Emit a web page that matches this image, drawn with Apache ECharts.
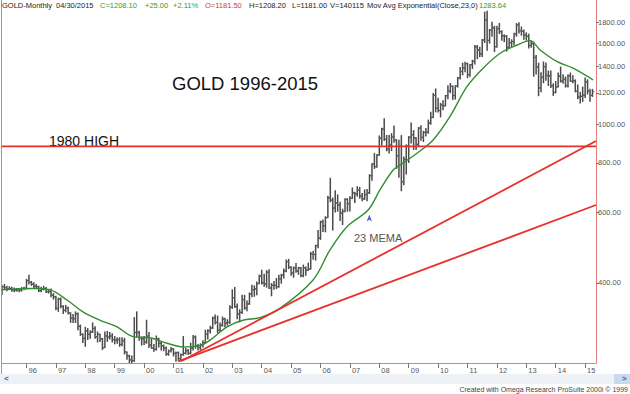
<!DOCTYPE html>
<html><head><meta charset="utf-8">
<script src="https://cdn.jsdelivr.net/npm/echarts@6/dist/echarts.min.js"></script>
<style>html,body{margin:0;padding:0;background:#fff;}#c{width:630px;height:394px;}</style>
</head><body><div id="c"></div>
<script>
// Monthly bars, first bar = March 1995, last bar = April 2015
const firstYear = 1995, firstMonth = 3;
const opens = [
 376,391,389,386,387,384,383,384,383,387,
 387,405,401,397,392,391,382,386,387,380,380,372,
 369,345,364,349,341,346,336,326,325,334,311,297,
 290,303,297,301,307,293,297,289,275,294,292,294,
 288,287,288,280,286,268,262,256,255,300,300,291,
 289,284,294,279,274,272,289,282,278,274,265,270,
 273,266,267,258,264,266,270,266,274,292,278,275,
 279,283,297,303,308,326,318,304,313,324,317,318,
 347,367,348,334,337,363,346,354,375,384,386,398,
 416,400,397,425,388,394,394,391,409,418,428,452,
 438,423,436,428,436,417,436,430,433,472,471,496,
 518,569,556,583,654,645,616,635,627,598,604,648,
 632,652,673,669,683,660,650,666,673,743,795,783,
 838,923,973,917,866,887,930,913,834,882,718,817,
 882,928,942,924,890,978,927,954,955,1008,1040,1182,
 1097,1083,1119,1113,1180,1213,1245,1181,1248,1308,1357,1386,
 1421,1333,1411,1439,1565,1536,1502,1628,1826,1624,1725,1746,
 1566,1740,1710,1669,1664,1561,1604,1614,1687,1776,1719,1711,
 1675,1663,1578,1595,1472,1392,1234,1312,1396,1326,1323,1250,
 1202,1242,1322,1284,1296,1250,1322,1282,1287,1210,1171,1175,
 1184,1278,1212,1183];
const highs = [
 393,396,392,391,390,388,387,387,389,390,
 408,418,403,400,396,392,390,392,389,385,386,376,
 370,366,366,350,351,347,336,333,338,336,313,298,
 309,307,303,317,310,301,297,290,301,302,300,298,
 293,291,291,291,290,268,263,262,327,338,302,292,
 293,322,300,289,280,294,290,283,279,276,271,275,
 273,268,268,265,293,274,272,282,295,294,280,281,
 286,304,305,311,328,332,330,317,328,326,323,350,
 384,389,354,342,372,372,360,377,394,393,402,418,
 430,420,429,431,398,403,410,418,420,433,456,458,
 439,438,447,437,437,443,438,448,477,480,497,541,
 571,575,586,660,732,653,681,665,637,612,650,650,
 658,692,675,697,694,670,684,686,747,796,845,838,
 935,977,1033,937,937,947,990,915,912,937,828,888,
 931,1007,964,925,982,991,960,976,1025,1072,1195,1227,
 1163,1129,1146,1182,1250,1266,1248,1250,1311,1388,1424,1431,
 1424,1414,1448,1577,1577,1561,1632,1913,1923,1730,1804,1763,
 1764,1791,1718,1677,1669,1642,1630,1692,1790,1798,1755,1726,
 1697,1683,1617,1608,1488,1424,1348,1434,1425,1361,1361,1264,
 1281,1346,1392,1331,1315,1332,1345,1324,1293,1255,1204,1240,
 1307,1294,1224,1224];
const lows = [
 374,387,382,385,381,380,381,380,381,384,
 386,397,394,389,388,380,380,384,378,377,369,364,
 342,339,346,335,338,334,318,318,318,305,295,283,
 277,288,290,300,290,284,285,272,275,285,289,284,
 281,282,277,278,265,257,252,252,254,293,287,279,
 280,282,275,274,269,271,276,271,270,263,263,268,
 262,254,255,255,263,265,264,265,271,274,271,272,
 276,283,289,299,307,315,300,302,311,310,313,316,
 345,347,325,319,335,343,340,353,369,370,373,398,
 397,392,390,387,371,385,387,390,399,411,426,434,
 418,413,425,420,414,414,418,430,433,458,456,490,
 514,538,537,583,639,543,602,605,573,560,603,605,
 606,651,636,660,652,643,648,643,670,724,775,780,
 836,887,910,858,847,859,901,775,736,681,705,750,
 802,898,865,865,880,912,905,935,950,1000,1040,1075,
 1074,1044,1088,1113,1160,1200,1155,1157,1240,1300,1331,1356,
 1309,1320,1381,1418,1462,1478,1480,1605,1535,1600,1664,1523,
 1562,1691,1627,1613,1527,1555,1563,1582,1664,1695,1674,1636,
 1627,1555,1562,1321,1338,1180,1208,1272,1290,1251,1237,1182,
 1200,1240,1277,1268,1240,1240,1282,1272,1206,1160,1131,1142,
 1167,1192,1142,1175];
const closes = [
 391,389,386,387,384,383,384,383,387,387,
 405,401,397,392,391,382,386,387,380,380,372,369,
 345,364,349,341,346,336,326,325,334,311,297,290,
 303,297,301,307,293,297,289,275,294,292,294,288,
 287,288,280,286,268,262,256,255,300,300,291,289,
 284,294,279,274,272,289,282,278,274,265,270,273,
 266,267,258,264,266,270,266,274,292,278,275,279,
 283,297,303,308,326,318,304,313,324,317,318,347,
 367,348,334,337,363,346,354,375,384,386,398,416,
 400,397,425,388,394,394,391,409,418,428,452,438,
 423,436,428,436,417,436,430,433,472,471,496,518,
 569,556,583,654,645,616,635,627,598,604,648,632,
 652,673,669,683,660,650,666,673,743,795,783,838,
 923,973,917,866,887,930,913,834,882,718,817,882,
 928,942,924,890,978,927,954,955,1008,1040,1182,1097,
 1083,1119,1113,1180,1213,1245,1181,1248,1308,1357,1386,1421,
 1333,1411,1439,1565,1536,1502,1628,1826,1624,1725,1746,1566,
 1740,1710,1669,1664,1561,1604,1614,1687,1776,1719,1711,1675,
 1663,1578,1595,1472,1392,1234,1312,1396,1326,1323,1250,1202,
 1242,1322,1284,1296,1250,1322,1282,1287,1210,1171,1175,1184,
 1278,1212,1183,1208];

// 23-month exponential moving average (x in years)
const emaYears = [1995.16,1996.22,1996.80,1997.38,1997.92,1998.50,1999.08,1999.62,2000.20,2000.78,
 2001.32,2001.90,2002.24,2002.82,2003.36,2003.94,2004.62,2005.74,2006.32,2006.90,2007.62,2008.02,
 2008.47,2008.70,2009.28,2009.83,2010.40,2010.98,2011.53,2012.11,2012.69,2013.13,2013.47,2014.05,
 2014.59,2015.27];
const emaValues = [384,387,384,362,338,322,310,293,291,282,
 276,278,287,310,322,327,345,406,483,553,609,684,
 768,790,846,913,1045,1243,1383,1508,1582,1622,1537,1436,
 1383,1292];

// Reference lines
const high1980 = 880;
const upperTrendX = [2001.26, 2015.37], upperTrendY = [254, 908];
const lowerTrendX = [2001.17, 2015.37], lowerTrendY = [254, 627];
const markerX = [2007.66], markerY = [594];

// Axis ticks
const yearTicks = [1996,1997,1998,1999,2000,2001,2002,2003,2004,2005,2006,2007,2008,2009,2010,2011,2012,2013,2014,2015];
const yearLabels = ['96','97','98','99','00','01','02','03','04','05','06','07','08','09','10','11','12','13','14','15'];
const priceTicks = [400,600,800,1000,1200,1400,1600,1800];
const priceLabels = ['400.00','600.00','800.00','1000.00','1200.00','1400.00','1600.00','1800.00'];

const X_MIN = 1995.167, X_MAX = 2015.37;
const Y_MIN = 251.5, Y_MAX = 2052;

const bars = opens.map((o, i) => {
  const t = firstYear + (firstMonth - 1 + i) / 12;
  return [t, o, highs[i], lows[i], closes[i]];
});

const axisRed = '#e07d7d';
const lineRed = '#e8302a';
const font = 'Arial, "Liberation Sans", sans-serif';

const chart = echarts.init(document.getElementById('c'), null, {renderer: 'svg'});

function hdr(text, left, color) {
  return {type: 'text', left: left, top: 1, style: {text: text, fill: color, font: '7.5px ' + font}};
}

chart.setOption({
  animation: false,
  backgroundColor: '#fff',
  grid: {left: 2, right: 34, top: 0, bottom: 31, containLabel: false},
  xAxis: {
    type: 'value', min: X_MIN, max: X_MAX,
    axisLine: {show: true, lineStyle: {color: axisRed, width: 1}},
    axisTick: {show: true, customValues: yearTicks, length: 5, lineStyle: {color: '#777'}},
    axisLabel: {customValues: yearTicks, color: '#555', fontSize: 7.5, fontFamily: font, align: 'left', margin: 3,
      formatter: v => yearLabels[yearTicks.indexOf(Math.round(v))], padding: [0,0,0,2]},
    splitLine: {show: false}
  },
  yAxis: {
    type: 'log', logBase: 10, min: Y_MIN, max: Y_MAX, position: 'right',
    axisLine: {show: true, lineStyle: {color: axisRed, width: 1}},
    axisTick: {show: true, customValues: priceTicks, length: 3, lineStyle: {color: '#777'}},
    axisLabel: {customValues: priceTicks, color: '#555', fontSize: 7.5, fontFamily: font, margin: 2,
      formatter: v => priceLabels[priceTicks.indexOf(Math.round(v))] || ''},
    splitLine: {show: false}
  },
  series: [
    {
      type: 'custom', name: 'GOLD', data: bars, encode: {x: 0, y: [1, 2, 3, 4]}, clip: true, z: 3,
      renderItem: function (params, api) {
        const t = api.value(0);
        const po = api.coord([t, api.value(1)]);
        const ph = api.coord([t, api.value(2)]);
        const pl = api.coord([t, api.value(3)]);
        const pc = api.coord([t, api.value(4)]);
        const x = po[0];
        const st = {stroke: '#4a4a4a', lineWidth: 1.5};
        const st2 = {stroke: '#5a5a5a', lineWidth: 1.2};
        return {type: 'group', children: [
          {type: 'line', shape: {x1: x, y1: ph[1] - 0.5, x2: x, y2: pl[1] + 0.5}, style: st},
          {type: 'line', shape: {x1: x - 1.8, y1: po[1], x2: x, y2: po[1]}, style: st2},
          {type: 'line', shape: {x1: x, y1: pc[1], x2: x + 1.8, y2: pc[1]}, style: st2}
        ]};
      }
    },
    {
      type: 'line', name: 'EMA23', data: emaYears.map((t, i) => [t, emaValues[i]]),
      smooth: 0.35, showSymbol: false, z: 4,
      lineStyle: {color: '#2f8f2f', width: 1.4}
    },
    {
      type: 'line', name: '1980 HIGH', data: [[X_MIN, high1980], [X_MAX, high1980]],
      showSymbol: false, z: 5, lineStyle: {color: lineRed, width: 1.6}
    },
    {
      type: 'line', name: 'upper trend', data: upperTrendX.map((t, i) => [t, upperTrendY[i]]),
      showSymbol: false, z: 5, lineStyle: {color: lineRed, width: 1.8}
    },
    {
      type: 'line', name: 'lower trend', data: lowerTrendX.map((t, i) => [t, lowerTrendY[i]]),
      showSymbol: false, z: 5, lineStyle: {color: lineRed, width: 1.8}
    },
    {
      type: 'scatter', name: 'marker', data: markerX.map((t, i) => [t, markerY[i]]),
      symbol: 'arrow', symbolSize: [4, 7], itemStyle: {color: '#1f36c8'}, z: 6
    }
  ],
  graphic: [
    {type: 'line', shape: {x1: 1.5, y1: 0, x2: 1.5, y2: 374}, style: {stroke: '#999', lineWidth: 1}},
    {type: 'rect', shape: {x: 0, y: 374, width: 630, height: 10}, style: {fill: '#eef2f7'}},
    {type: 'rect', shape: {x: 614, y: 374, width: 16, height: 10}, style: {fill: '#c9d9ef'}},
    {type: 'text', left: 4, top: 374, style: {text: '<', fill: '#3560c0', font: 'bold 8px ' + font}},
    {type: 'text', left: 622, top: 374, style: {text: '>', fill: '#3560c0', font: 'bold 8px ' + font}},
    {type: 'text', right: 2, top: 386, style: {text: 'Created with Omega Research ProSuite 2000i \u00a9 1999', fill: '#444', font: '7px ' + font}},
    {type: 'text', left: 172, top: 74, style: {text: 'GOLD 1996-2015', fill: '#111', font: '18.5px ' + font}},
    {type: 'text', left: 49, top: 134, style: {text: '1980 HIGH', fill: '#111', font: '14px ' + font}},
    {type: 'text', left: 354, top: 232, style: {text: '23 MEMA', fill: '#555', font: '11px ' + font}},
    hdr('GOLD-Monthly', 2, '#222'),
    hdr('04/30/2015', 56, '#222'),
    hdr('C=1208.10', 100, '#2e9e2e'),
    hdr('+25.00', 145, '#2e9e2e'),
    hdr('+2.11%', 173, '#2e9e2e'),
    hdr('O=1181.50', 205, '#d0383e'),
    hdr('H=1208.20', 249, '#222'),
    hdr('L=1181.00', 292, '#222'),
    hdr('V=140115', 330, '#222'),
    hdr('Mov Avg Exponential(Close,23,0)', 367, '#222'),
    hdr('1283.64', 479, '#2e9e2e')
  ]
});
</script>
</body></html>
